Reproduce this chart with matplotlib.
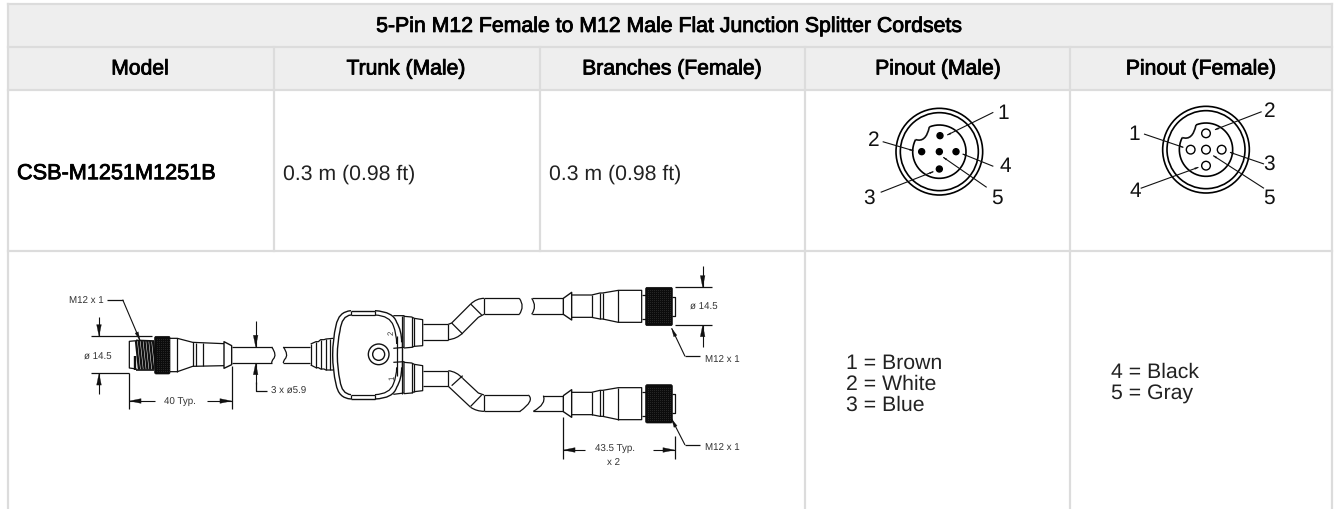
import numpy as np
import matplotlib
matplotlib.use('Agg')
import matplotlib.pyplot as plt
import matplotlib.patheffects as pe
from matplotlib.patches import Circle, Polygon, PathPatch, FancyBboxPatch
from matplotlib.path import Path

plt.rcParams['font.family'] = ['Liberation Sans', 'DejaVu Sans']
plt.rcParams['text.hinting'] = 'no_hinting'
NARROW = ['Liberation Sans Narrow', 'Liberation Sans']

title = '5-Pin M12 Female to M12 Male Flat Junction Splitter Cordsets'
headers = ['Model', 'Trunk (Male)', 'Branches (Female)', 'Pinout (Male)', 'Pinout (Female)']
model = 'CSB-M1251M1251B'
trunk = '0.3 m (0.98 ft)'
branches = '0.3 m (0.98 ft)'
wires_male = ['1 = Brown', '2 = White', '3 = Blue']
wires_female = ['4 = Black', '5 = Gray']
male_pins = ['1', '2', '3', '4', '5']
female_pins = ['1', '2', '3', '4', '5']

GRID = '#dcdcdc'
HEAD = '#eeeeee'
INK = '#111111'
col_x = [7.5, 273.5, 539.5, 805, 1070, 1332]
row_y = [5, 47.5, 90.5, 251.5, 510]
FAUX = [pe.withStroke(linewidth=0.6, foreground='black')]

fig = plt.figure(figsize=(13.36, 5.10), dpi=100)
ax = fig.add_axes([0, 0, 1, 1])
ax.set_xlim(0, 1336)
ax.set_ylim(510, 0)
ax.axis('off')


# table frame
ax.fill_between([col_x[0], col_x[-1]], row_y[0], row_y[2], color=HEAD, lw=0, zorder=0)
for y in row_y[:4]:
    ax.plot([col_x[0], col_x[-1]], [y, y], color=GRID, lw=1.6, zorder=1)
ax.plot([col_x[0]] * 2, [row_y[0], 510], color=GRID, lw=1.6, zorder=1)
ax.plot([col_x[-1]] * 2, [row_y[0], 510], color=GRID, lw=1.6, zorder=1)
for x in col_x[1:3]:
    ax.plot([x, x], [row_y[1], row_y[3]], color=GRID, lw=1.6, zorder=1)
for x in col_x[3:5]:
    ax.plot([x, x], [row_y[1], 510], color=GRID, lw=1.6, zorder=1)

# table text
ax.text(669, 27.5, title, ha='center', va='center', fontsize=15.3, color='black', path_effects=FAUX)
centers = [140, 406, 672, 938, 1201]
for cx, h in zip(centers, headers):
    ax.text(cx, 70, h, ha='center', va='center', fontsize=15.2, color='black', path_effects=FAUX)
ax.text(17, 174.5, model, ha='left', va='center', fontsize=15.6, color='black', path_effects=FAUX)
ax.text(283, 174, trunk, ha='left', va='center', fontsize=15.3, color='#222222')
ax.text(549, 174, branches, ha='left', va='center', fontsize=15.3, color='#222222')
for i, w in enumerate(wires_male):
    ax.text(846, 363 + i * 21, w, ha='left', va='center', fontsize=15.3, color='#222222')
for i, w in enumerate(wires_female):
    ax.text(1111, 372.5 + i * 22, w, ha='left', va='center', fontsize=15.3, color='#222222')


class Zoomed:
    def __init__(self, ox, oy):
        self.ox, self.oy = ox, oy

    def p(self, pts):
        return [(self.ox + x / 3, self.oy + y / 3) for x, y in pts]

    def line(self, *pts, lw=0.9, color=INK):
        q = self.p(pts)
        ax.plot([a for a, b in q], [b for a, b in q], color=color, lw=lw,
                solid_capstyle='butt', solid_joinstyle='round', zorder=3)

    def curve(self, *pts, lw=0.9):
        # first point, then (control, end) pairs
        q = self.p(pts)
        codes = [Path.MOVETO] + [Path.CURVE3] * (len(q) - 1)
        ax.add_patch(PathPatch(Path(q, codes), fc='none', ec=INK, lw=lw, zorder=3))

    def arrow(self, start, tip, lw=0.8, size=11):
        self.line(start, tip, lw=lw)
        a = np.array(tip, float)
        s = np.array(start, float)
        d = (s - a) / np.hypot(*(s - a))
        n = np.array([-d[1], d[0]])
        L, W = size * 3.2, size * 0.65
        pts = [a, a + d * L + n * W, a + d * L - n * W]
        ax.add_patch(Polygon(self.p([tuple(v) for v in pts]), closed=True, fc=INK, ec=INK,
                             lw=0.2, zorder=4))

    def label(self, x, y, s, ha='center', size=7.0, rot=0):
        q = self.p([(x, y)])[0]
        ax.text(q[0], q[1], s, ha=ha, va='center', fontsize=size, color='#333333',
                family=NARROW, rotation=rot, zorder=5)

    def knurl(self, x0, y0, x1, y1):
        q0 = self.p([(x0, y0)])[0]
        q1 = self.p([(x1, y1)])[0]
        ax.add_patch(FancyBboxPatch(q0, q1[0] - q0[0], q1[1] - q0[1],
                                    boxstyle='round,pad=0,rounding_size=1.5',
                                    fc='#0c0c0c', ec='#0c0c0c', lw=0.5, zorder=4))
        xs = np.arange(q0[0] + 2, q1[0] - 1, 2.0)
        ys = np.arange(q0[1] + 3, q1[1] - 2, 2.0)
        gx, gy = np.meshgrid(xs, ys)
        ax.scatter(gx.ravel(), gy.ravel(), s=0.3, c='#333333', linewidths=0, zorder=5)


# trunk connector
z = Zoomed(40, 250)
z.label(190, 152, 'M12 x 1', ha='right')
z.line((200, 152), (248, 152))
z.arrow((248, 152), (300, 274), size=8)
z.line((152, 262), (335, 262))
z.line((152, 373), (268, 373))
z.arrow((177, 205), (177, 262))
z.arrow((177, 435), (177, 373))
z.label(173, 321, 'ø 14.5')
z.line((290, 275), (268, 277), (268, 357), (290, 360))
for x in np.arange(288, 342, 8.5):
    z.line((x, 276), (x + 9, 362), lw=1.7)
z.line((285, 320), (285, 362), lw=1.7)
z.line((288, 274), (342, 276), lw=1.2)
z.line((288, 362), (342, 362), lw=1.2)
z.knurl(344, 262, 390, 375)
z.line((390, 268), (412, 268), (458, 280), (552, 284))
z.line((390, 368), (412, 368), (458, 352), (552, 350))
for x, y0, y1 in [(412, 268, 368), (458, 280, 352), (468, 281, 351), (490, 283, 350)]:
    z.line((x, y0), (x, y1))
z.line((552, 284), (552, 278), (575, 290), (575, 347), (552, 358), (552, 284), lw=1.0)
z.line((575, 294), (695, 294))
z.line((575, 342), (695, 342))
z.curve((695, 294), (712, 318), (700, 330), (695, 336), (695, 342))
z.line((730, 294), (810, 294))
z.line((730, 342), (810, 342))
z.curve((730, 294), (747, 318), (735, 330), (730, 336), (730, 342))
z.arrow((647, 217), (647, 294))
z.arrow((647, 405), (647, 342))
z.line((647, 400), (647, 425), (680, 425))
z.label(693, 425, '3 x ø5.9', ha='left')
z.line((268, 373), (268, 480))
z.line((575, 350), (575, 480))
z.arrow((345, 456), (268, 456))
z.arrow((500, 456), (575, 456))
z.label(421, 456, '40 Typ.')

# junction body
j = Zoomed(280, 290)
j.line((92, 165), (108, 158), (115, 158), (122, 152), (132, 152), (138, 150), (160, 148))
j.line((92, 228), (108, 236), (115, 236), (122, 240), (132, 240), (138, 243), (160, 243))
for x, a, c in [(92, 165, 228), (108, 158, 236), (122, 152, 240), (138, 150, 243), (150, 149, 243)]:
    j.line((x, a), (x, c))
j.curve((213, 65), (175, 68), (168, 110), (158, 150), (158, 198), (158, 245), (168, 285), (175, 328), (213, 330), lw=1.0)
j.line((213, 65), (285, 65), lw=1.0)
j.line((213, 330), (285, 330), lw=1.0)
j.curve((285, 65), (340, 68), (350, 100), (365, 125), (365, 160), lw=1.0)
j.curve((285, 330), (340, 328), (350, 295), (365, 270), (365, 235), lw=1.0)
j.line((365, 140), (365, 260), lw=1.0)
j.curve((213, 78), (185, 80), (180, 125), (172, 160), (172, 198), (172, 240), (180, 275), (185, 315), (213, 317), lw=1.0)
j.line((213, 65), (213, 78))
j.line((285, 65), (285, 78))
j.line((213, 317), (213, 330))
j.line((285, 317), (285, 330))
j.line((213, 78), (285, 78))
j.line((213, 317), (285, 317))
j.curve((285, 78), (330, 80), (340, 110), (350, 135), (350, 165))
j.curve((285, 317), (330, 315), (340, 285), (350, 262), (350, 235))
j.line((350, 140), (350, 260))
ax.add_patch(Circle((280 + 296 / 3, 290 + 196 / 3), 31 / 3, fc='none', ec=INK, lw=1.0, zorder=3))
ax.add_patch(Circle((280 + 296 / 3, 290 + 196 / 3), 18 / 3, fc='none', ec=INK, lw=1.0, zorder=3))
j.label(336, 130, '2', size=5.5, rot=90)
j.label(336, 265, '1', size=5.5, rot=90)

# branches
b = Zoomed(380, 250)
for dy in [0, 292]:
    b.knurl(797, 115 + dy, 877, 230 + dy)
    b.line((877, 143 + dy), (884, 143 + dy), (884, 200 + dy), (877, 200 + dy))
    b.line((575, 138 + dy), (635, 138 + dy), (660, 132 + dy), (668, 132 + dy), (715, 124 + dy), (785, 124 + dy), (785, 220 + dy),
           (715, 220 + dy), (668, 210 + dy), (660, 210 + dy), (635, 205 + dy), (575, 205 + dy))
    for x, a, c in [(635, 138, 205), (660, 132, 210), (668, 132, 210), (715, 124, 220)]:
        b.line((x, a + dy), (x, c + dy))
    b.line((785, 138 + dy), (797, 138 + dy))
    b.line((785, 210 + dy), (797, 210 + dy))
    b.line((550, 148 + dy), (575, 130 + dy), (575, 213 + dy), (550, 196 + dy), (550, 148 + dy), lw=1.0)

# upper branch
b.line((40, 200), (72, 200), (72, 295), (40, 298))
b.line((65, 200), (65, 298))
b.line((72, 202), (95, 204), (103, 208), (128, 212), (128, 290), (103, 292), (95, 295), (72, 297))
b.line((95, 204), (95, 295))
b.line((103, 208), (103, 292))
b.line((128, 226), (205, 226))
b.line((128, 272), (205, 272))
b.line((205, 226), (205, 272))
b.line((205, 226), (215, 222), (272, 165))
b.curve((272, 165), (290, 148), (312, 148))
b.curve((205, 272), (230, 270), (248, 252))
b.line((248, 252), (295, 205), (312, 196))
b.line((215, 222), (248, 255))
b.line((272, 165), (305, 198))
b.line((312, 148), (312, 196))
b.line((312, 148), (418, 148))
b.line((312, 196), (418, 196))
b.curve((418, 148), (435, 172), (418, 196))
b.curve((455, 148), (472, 172), (455, 196))
b.line((455, 148), (550, 148))
b.line((455, 196), (550, 196))

# lower branch
b.line((40, 340), (72, 338), (72, 432), (40, 436))
b.line((65, 340), (65, 436))
b.line((72, 340), (95, 342), (103, 346), (128, 350), (128, 425), (103, 428), (95, 432), (72, 434))
b.line((95, 342), (95, 432))
b.line((103, 346), (103, 428))
b.line((128, 365), (205, 365))
b.line((128, 412), (205, 412))
b.line((205, 365), (205, 412))
b.curve((205, 365), (230, 368), (248, 388))
b.line((248, 388), (295, 432), (312, 438))
b.line((205, 412), (272, 475))
b.curve((272, 475), (290, 487), (312, 487))
b.line((215, 410), (248, 380))
b.line((272, 472), (305, 438))
b.line((312, 438), (312, 487))
b.line((312, 438), (445, 438))
b.line((312, 487), (420, 487))
b.curve((445, 438), (465, 455), (420, 487))
b.curve((490, 440), (500, 465), (460, 487))
b.line((490, 440), (550, 440))
b.line((460, 487), (550, 487))

# branch dimensions
b.line((885, 115), (995, 115))
b.line((885, 228), (995, 228))
b.arrow((968, 52), (968, 115))
b.arrow((968, 293), (968, 228))
b.label(970, 171, 'ø 14.5')
b.arrow((915, 322), (875, 238), size=8)
b.line((915, 322), (960, 322))
b.label(975, 329, 'M12 x 1', ha='left')
b.arrow((915, 588), (875, 510), size=8)
b.line((915, 588), (960, 588))
b.label(975, 593, 'M12 x 1', ha='left')
b.line((550, 505), (550, 630))
b.line((884, 560), (884, 630))
b.arrow((615, 603), (550, 603))
b.arrow((818, 603), (884, 603))
b.label(706, 597, '43.5 Typ.')
b.label(700, 637, 'x 2')


def pinout(z, cx, cy, notch_ctrl, pins, r_pin, filled, leaders, labels, names):
    c = (z.ox + cx / 3, z.oy + cy / 3)
    ax.add_patch(Circle(c, 130 / 3, fc='none', ec='black', lw=1.2, zorder=3))
    ax.add_patch(Circle(c, 117 / 3, fc='none', ec='black', lw=1.2, zorder=3))
    t = np.radians(np.linspace(248, 567, 160))
    arc = [(cx + 80 * np.cos(a), cy + 80 * np.sin(a)) for a in t]
    z.line(*arc, lw=1.2, color='black')
    z.curve(arc[-1], notch_ctrl, arc[0], lw=1.2)
    for px, py in pins:
        q = z.p([(px, py)])[0]
        ax.add_patch(Circle(q, r_pin / 3, fc='black' if filled else 'white', ec='black', lw=1.0, zorder=4))
    for s, e in leaders:
        z.arrow(s, e, lw=0.8, size=3.5)
    for (x, y), n in zip(labels, names):
        q = z.p([(x, y)])[0]
        ax.text(q[0], q[1], n, ha='center', va='center', fontsize=15, color='#111111', zorder=5)


pinout(Zoomed(820, 90), 358, 188, (318, 162),
       [(360, 140), (305, 188), (358, 188), (408, 188), (358, 240)], 9, True,
       [((520, 70), (382, 138)), ((188, 158), (280, 185)), ((182, 310), (340, 248)),
        ((520, 232), (428, 195)), ((500, 295), (370, 205))],
       [(549, 70), (160, 152), (147, 325), (556, 230), (532, 325)], male_pins)
pinout(Zoomed(1120, 90), 258, 182, (218, 156),
       [(258, 133), (212, 182), (258, 182), (305, 182), (258, 230)], 13, False,
       [((72, 135), (190, 175)), ((425, 68), (285, 122)), ((432, 225), (330, 190)),
        ((62, 298), (235, 235)), ((432, 298), (280, 200))],
       [(42, 133), (450, 65), (448, 222), (45, 305), (448, 325)], female_pins)

fig.savefig('out.png', dpi=100)
